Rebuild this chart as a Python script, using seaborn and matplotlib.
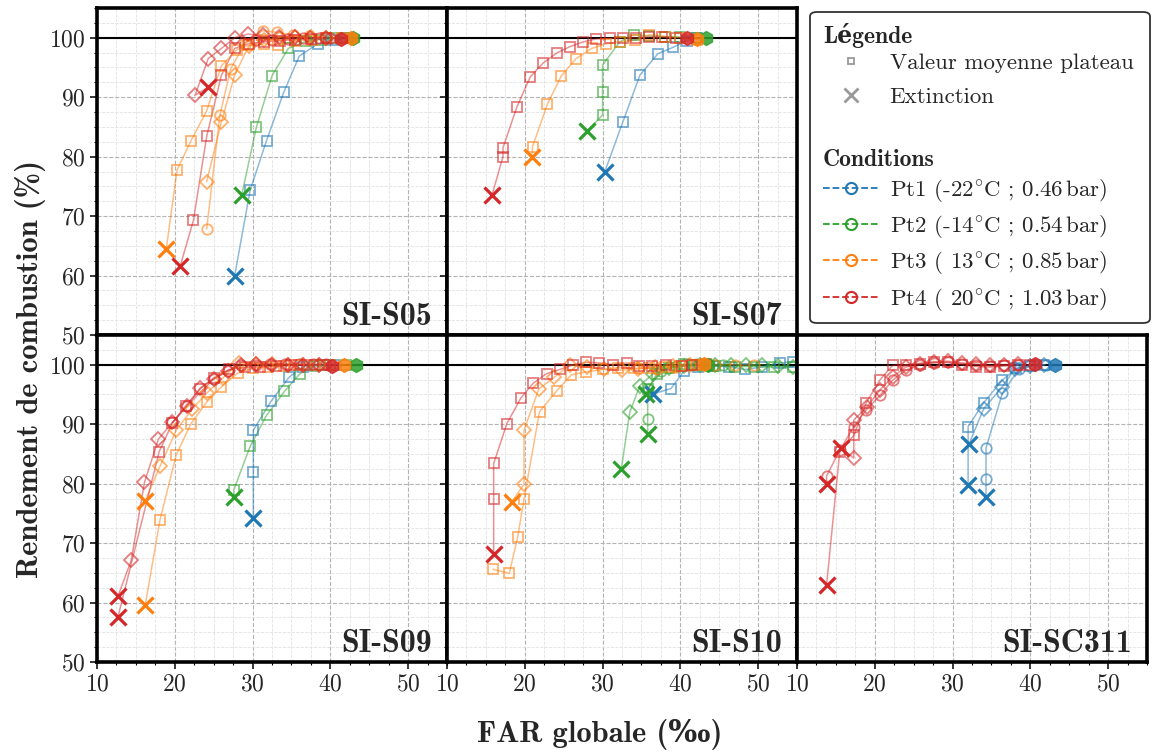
import seaborn as sns
import matplotlib.pyplot as plt
from matplotlib.lines import Line2D
from matplotlib.patches import FancyBboxPatch
from matplotlib.ticker import MultipleLocator

# couleurs des conditions Pt1..Pt4
cond_colors = ['#1f77b4', '#2ca02c', '#ff7f0e', '#d62728']
cond_labels = [r'Pt1 (-22$^{\circ}$C ; 0.46$\,$bar)', r'Pt2 (-14$^{\circ}$C ; 0.54$\,$bar)',
               r'Pt3 ( 13$^{\circ}$C ; 0.85$\,$bar)', r'Pt4 ( 20$^{\circ}$C ; 1.03$\,$bar)']
panels = ['SI-S05', 'SI-S07', 'SI-S09', 'SI-S10', 'SI-SC311']

# ---- SI-S05 ----
s05_pt1_s_x = [29.7, 31.8, 34.0, 36.0, 38.4, 40.3, 41.8]
s05_pt1_s_y = [74.4, 82.7, 90.8, 96.9, 99.0, 99.6, 99.9]
s05_pt1_s_ext = [27.7, 60.0]
s05_pt2_s_x = [30.5, 32.5, 34.6, 36.9, 38.8, 40.6, 42.2]
s05_pt2_s_y = [85.0, 93.6, 98.2, 99.4, 99.7, 99.9, 100.0]
s05_pt2_s_ext = [28.6, 73.5]
s05_pt3_s_x = [20.3, 22.1, 24.1, 26.0, 28.0, 29.4, 31.5, 33.3, 35.5, 37.6, 39.6, 41.5]
s05_pt3_s_y = [77.8, 82.7, 87.7, 95.3, 98.0, 98.7, 99.0, 98.8, 99.4, 99.7, 99.9, 100.0]
s05_pt3_s_ext = [18.9, 64.4]
s05_pt3_d_x = [24.1, 26.0, 27.7, 29.5, 31.5, 33.5, 35.5, 37.5, 39.5]
s05_pt3_d_y = [75.8, 85.9, 93.7, 98.6, 99.6, 100.0, 100.2, 100.1, 100.0]
s05_pt3_o_x = [24.1, 25.8, 27.2, 29.0, 31.3, 33.2, 35.2, 37.3, 39.3, 41.2]
s05_pt3_o_y = [67.8, 87.0, 94.8, 99.0, 101.2, 100.9, 100.5, 100.3, 100.1, 100.0]
s05_pt4_s_x = [22.4, 24.1, 26.0, 27.7, 29.5, 31.5, 33.5, 35.5, 37.5, 39.5]
s05_pt4_s_y = [69.3, 83.4, 93.7, 98.2, 99.0, 99.3, 99.5, 99.7, 99.8, 99.9]
s05_pt4_s_ext = [20.7, 61.6]
s05_pt4_d_x = [22.6, 24.3, 26.0, 27.7, 29.4, 31.4, 33.4, 35.4, 37.4, 39.4]
s05_pt4_d_y = [90.3, 96.5, 98.2, 100.0, 100.6, 100.4, 100.2, 100.1, 100.0, 100.0]
s05_pt4_d_ext = [24.3, 91.7]
s05_pt4_o_x = [30.5, 32.5, 34.6, 36.5, 38.5, 40.0]
s05_pt4_o_y = [99.6, 99.7, 99.8, 99.9, 100.0, 100.0]
s05_end_x = [42.9, 42.6, 41.4]
s05_end_y = [100.0, 100.0, 99.8]
s05_end_c = [1, 2, 3]

# ---- SI-S07 ----
s07_pt1_s_x = [32.6, 34.8, 37.1, 39.1, 40.8, 42.2]
s07_pt1_s_y = [85.8, 93.7, 97.3, 98.4, 99.5, 99.9]
s07_pt1_s_ext = [30.3, 77.5]
s07_pt2_s_x = [30.0, 30.0, 30.0, 32.2, 34.0, 36.0, 38.0, 40.0, 42.0]
s07_pt2_s_y = [87.0, 90.8, 95.4, 99.3, 100.5, 100.3, 100.2, 100.1, 100.0]
s07_pt2_s_ext = [28.0, 84.3]
s07_pt3_s_x = [21.0, 22.9, 24.7, 26.6, 28.6, 30.5, 32.3, 34.2, 36.0, 38.0, 40.0, 42.2]
s07_pt3_s_y = [81.7, 88.8, 93.6, 96.5, 98.2, 99.0, 99.3, 99.6, 100.5, 100.2, 100.0, 99.7]
s07_pt3_s_ext = [20.9, 80.0]
s07_pt4_s_x = [17.2, 17.2, 19.0, 20.7, 22.4, 24.2, 25.8, 27.5, 29.2, 30.9, 32.6, 34.3, 36.0, 37.7, 39.4]
s07_pt4_s_y = [80.0, 81.5, 88.4, 93.4, 95.8, 97.5, 98.5, 99.3, 99.8, 99.9, 100.0, 100.0, 100.1, 100.1, 100.0]
s07_pt4_s_ext = [15.8, 73.6]
s07_end_x = [43.3, 42.2, 40.9]
s07_end_y = [100.0, 99.8, 100.0]
s07_end_c = [1, 2, 3]

# ---- SI-S09 ----
s09_pt1_s_x = [30.1, 30.1, 32.4, 34.7, 36.5, 38.5, 40.5]
s09_pt1_s_y = [81.9, 89.0, 93.9, 97.9, 99.7, 99.9, 100.0]
s09_pt1_s_ext = [30.1, 74.3]
s09_pt2_s_x = [27.6, 29.7, 31.8, 34.1, 36.1, 38.0, 40.0, 42.0]
s09_pt2_s_y = [79.0, 86.3, 91.5, 95.5, 98.5, 99.8, 100.0, 100.0]
s09_pt2_s_ext = [27.6, 77.8]
s09_pt3_s_x = [18.1, 20.2, 22.1, 24.1, 26.0, 28.1, 30.0, 32.0, 34.0, 36.0, 38.0, 40.0]
s09_pt3_s_y = [73.9, 84.9, 90.1, 93.7, 96.3, 98.6, 99.4, 99.7, 99.8, 100.0, 100.0, 100.0]
s09_pt3_s_ext = [16.2, 59.6]
s09_pt3_d_x = [18.1, 20.2, 22.2, 24.1, 26.2, 28.3, 30.5, 32.5, 34.5, 36.5, 38.5]
s09_pt3_d_y = [82.9, 89.0, 92.5, 95.2, 97.8, 100.3, 100.2, 100.1, 100.0, 100.0, 100.0]
s09_pt3_d_ext = [16.2, 77.1]
s09_pt4_d_x = [14.4, 16.1, 17.9, 19.7, 21.6, 23.3, 25.0, 26.8, 28.5, 30.5, 32.5, 34.5, 36.5, 38.5]
s09_pt4_d_y = [67.1, 80.2, 87.5, 90.3, 93.1, 96.1, 97.6, 99.0, 100.0, 100.1, 100.0, 100.0, 100.0, 100.0]
s09_pt4_d_ext = [12.7, 61.1]
s09_pt4_s_x = [18.0, 19.7, 21.4, 23.3, 25.0, 27.0, 29.0, 31.0, 33.0, 35.0, 37.0, 39.0]
s09_pt4_s_y = [85.4, 90.2, 93.1, 96.0, 97.8, 99.2, 99.6, 99.7, 99.8, 99.9, 100.0, 100.0]
s09_pt4_s_ext = [12.7, 57.6]
s09_pt4_o_x = [19.7, 21.6, 25.0, 26.8, 28.5, 30.5, 32.3, 34.2, 36.0, 37.8, 39.5]
s09_pt4_o_y = [90.3, 93.1, 97.6, 98.9, 100.0, 100.0, 100.2, 100.2, 100.2, 100.1, 100.1]
s09_end_x = [43.3, 41.8, 40.2]
s09_end_y = [100.0, 100.0, 99.8]
s09_end_c = [1, 2, 3]

# ---- SI-S10 ----
s10_pt1_s_x = [38.8, 40.5, 42.3, 44.2, 46.3, 48.3, 50.5, 52.8, 54.5]
s10_pt1_s_y = [96.0, 99.0, 99.6, 99.8, 99.7, 99.2, 99.6, 100.3, 100.5]
s10_pt1_s_ext = [36.5, 95.1]
s10_pt2_d_x = [33.5, 34.8, 36.5, 38.5, 40.5, 42.5, 44.5, 46.5, 48.5, 50.5, 52.5, 54.5]
s10_pt2_d_y = [92.0, 96.5, 98.5, 99.5, 99.8, 100.0, 100.0, 100.0, 99.9, 100.0, 99.8, 99.7]
s10_pt2_d_ext = [32.4, 82.4]
s10_pt2_o_x = [35.8, 35.8, 37.5, 39.5, 41.5, 43.5, 45.5]
s10_pt2_o_y = [90.8, 95.9, 99.0, 99.8, 100.0, 100.1, 100.0]
s10_pt2_o_ext = [35.8, 88.3]
s10_pt2_s_x = [35.8, 37.0, 38.5, 40.5, 42.5, 44.5, 47.0, 49.5, 52.0, 54.5]
s10_pt2_s_y = [95.9, 98.5, 99.5, 100.1, 100.0, 99.8, 99.7, 99.7, 99.6, 99.7]
s10_pt2_s_ext = [35.6, 95.1]
s10_pt3_s_x = [15.9, 18.0, 19.1, 19.9, 21.9, 24.1, 26.0, 27.9, 30.0, 32.0, 34.0, 36.0, 38.0, 40.0, 42.0]
s10_pt3_s_y = [65.6, 64.9, 71.1, 77.4, 92.1, 95.6, 98.3, 98.8, 99.2, 99.5, 99.4, 99.5, 99.7, 99.8, 100.0]
s10_pt3_d_x = [19.9, 19.9, 21.8, 23.8, 25.8, 28.0, 30.2, 32.5, 34.6, 36.8, 39.0, 41.2]
s10_pt3_d_y = [79.9, 89.0, 95.9, 97.9, 100.0, 99.6, 99.2, 99.1, 99.3, 99.6, 99.8, 100.0]
s10_pt3_d_ext = [18.3, 76.9]
s10_pt3_o_x = [34.7, 37.0, 39.5, 42.0, 44.5, 47.0, 49.5]
s10_pt3_o_y = [99.5, 99.3, 99.6, 100.1, 100.0, 100.0, 100.0]
s10_pt4_s_x = [16.0, 16.0, 17.7, 19.5, 21.1, 22.8, 24.5, 26.2, 27.9, 29.6, 31.3, 33.1,
               34.7, 36.4, 38.1, 40.2, 41.5, 43.3]
s10_pt4_s_y = [77.4, 83.4, 90.1, 94.4, 96.9, 98.5, 99.2, 100.0, 100.4, 100.3, 100.0, 100.3,
               99.8, 99.8, 100.0, 99.8, 100.0, 100.2]
s10_pt4_s_ext = [16.0, 68.1]
s10_end_x = [43.5, 43.0]
s10_end_y = [100.0, 100.1]
s10_end_c = [1, 2]

# ---- SI-SC311 ----
sc311_pt1_o_x = [34.3, 34.3, 36.4, 38.5, 40.5, 42.0]
sc311_pt1_o_y = [80.8, 86.0, 95.2, 99.2, 99.9, 100.0]
sc311_pt1_o_ext = [34.3, 77.7]
sc311_pt1_s_x = [32.0, 34.0, 36.4, 38.2, 40.0, 41.8]
sc311_pt1_s_y = [89.6, 93.6, 97.4, 99.4, 99.8, 100.0]
sc311_pt1_s_ext = [32.0, 79.7]
sc311_pt1_d_x = [34.0, 36.4, 38.0, 40.0, 41.8]
sc311_pt1_d_y = [92.6, 96.3, 99.3, 99.8, 100.0]
sc311_pt1_d_ext = [32.1, 86.6]
sc311_pt4_o_x = [13.8, 15.5, 17.3, 18.9, 20.7, 22.3, 24.0, 25.8, 27.6, 29.4, 31.2, 33.0, 34.8, 36.6, 38.4]
sc311_pt4_o_y = [81.3, 85.6, 89.6, 92.4, 94.9, 97.4, 99.1, 100.0, 100.3, 100.4, 100.2, 100.0, 99.8, 99.9, 100.0]
sc311_pt4_o_ext = [13.8, 79.9]
sc311_pt4_s_x = [15.5, 17.3, 18.9, 20.7, 22.3, 24.0, 25.8, 27.6, 29.4, 31.2, 33.0, 34.8, 36.6, 38.4, 40.0]
sc311_pt4_s_y = [85.4, 88.1, 93.6, 97.5, 99.9, 100.0, 100.2, 100.4, 100.4, 100.0, 99.7, 99.6, 99.8, 99.9, 100.0]
sc311_pt4_s_ext = [13.8, 62.9]
sc311_pt4_d_x = [17.3, 17.3, 19.0, 20.7, 22.3, 24.0, 25.8, 27.6, 29.4, 31.2, 33.0, 34.8, 36.6, 38.4]
sc311_pt4_d_y = [84.3, 90.7, 92.9, 95.8, 98.0, 99.6, 100.2, 100.5, 100.6, 100.3, 100.1, 99.9, 100.0, 100.1]
sc311_pt4_d_ext = [15.7, 86.0]
sc311_end_x = [43.2, 40.6]
sc311_end_y = [100.0, 100.2]
sc311_end_c = [0, 3]

# (panneau, condition, marqueur, x, y, extinction)
runs = [
    (0, 0, 's', s05_pt1_s_x, s05_pt1_s_y, s05_pt1_s_ext),
    (0, 1, 's', s05_pt2_s_x, s05_pt2_s_y, s05_pt2_s_ext),
    (0, 2, 's', s05_pt3_s_x, s05_pt3_s_y, s05_pt3_s_ext),
    (0, 2, 'D', s05_pt3_d_x, s05_pt3_d_y, None),
    (0, 2, 'o', s05_pt3_o_x, s05_pt3_o_y, None),
    (0, 3, 's', s05_pt4_s_x, s05_pt4_s_y, s05_pt4_s_ext),
    (0, 3, 'D', s05_pt4_d_x, s05_pt4_d_y, s05_pt4_d_ext),
    (0, 3, 'o', s05_pt4_o_x, s05_pt4_o_y, None),
    (1, 0, 's', s07_pt1_s_x, s07_pt1_s_y, s07_pt1_s_ext),
    (1, 1, 's', s07_pt2_s_x, s07_pt2_s_y, s07_pt2_s_ext),
    (1, 2, 's', s07_pt3_s_x, s07_pt3_s_y, s07_pt3_s_ext),
    (1, 3, 's', s07_pt4_s_x, s07_pt4_s_y, s07_pt4_s_ext),
    (2, 0, 's', s09_pt1_s_x, s09_pt1_s_y, s09_pt1_s_ext),
    (2, 1, 's', s09_pt2_s_x, s09_pt2_s_y, s09_pt2_s_ext),
    (2, 2, 's', s09_pt3_s_x, s09_pt3_s_y, s09_pt3_s_ext),
    (2, 2, 'D', s09_pt3_d_x, s09_pt3_d_y, s09_pt3_d_ext),
    (2, 3, 'D', s09_pt4_d_x, s09_pt4_d_y, s09_pt4_d_ext),
    (2, 3, 's', s09_pt4_s_x, s09_pt4_s_y, s09_pt4_s_ext),
    (2, 3, 'o', s09_pt4_o_x, s09_pt4_o_y, None),
    (3, 0, 's', s10_pt1_s_x, s10_pt1_s_y, s10_pt1_s_ext),
    (3, 1, 'D', s10_pt2_d_x, s10_pt2_d_y, s10_pt2_d_ext),
    (3, 1, 'o', s10_pt2_o_x, s10_pt2_o_y, s10_pt2_o_ext),
    (3, 1, 's', s10_pt2_s_x, s10_pt2_s_y, s10_pt2_s_ext),
    (3, 2, 's', s10_pt3_s_x, s10_pt3_s_y, None),
    (3, 2, 'D', s10_pt3_d_x, s10_pt3_d_y, s10_pt3_d_ext),
    (3, 2, 'o', s10_pt3_o_x, s10_pt3_o_y, None),
    (3, 3, 's', s10_pt4_s_x, s10_pt4_s_y, s10_pt4_s_ext),
    (4, 0, 'o', sc311_pt1_o_x, sc311_pt1_o_y, sc311_pt1_o_ext),
    (4, 0, 's', sc311_pt1_s_x, sc311_pt1_s_y, sc311_pt1_s_ext),
    (4, 0, 'D', sc311_pt1_d_x, sc311_pt1_d_y, sc311_pt1_d_ext),
    (4, 3, 'o', sc311_pt4_o_x, sc311_pt4_o_y, sc311_pt4_o_ext),
    (4, 3, 's', sc311_pt4_s_x, sc311_pt4_s_y, sc311_pt4_s_ext),
    (4, 3, 'D', sc311_pt4_d_x, sc311_pt4_d_y, sc311_pt4_d_ext),
]
ends = [(s05_end_x, s05_end_y, s05_end_c), (s07_end_x, s07_end_y, s07_end_c),
        (s09_end_x, s09_end_y, s09_end_c), (s10_end_x, s10_end_y, s10_end_c),
        (sc311_end_x, sc311_end_y, sc311_end_c)]

sns.set_theme(style='ticks')
plt.rcParams['font.family'] = ['cmr10', 'DejaVu Serif']
plt.rcParams['axes.formatter.use_mathtext'] = True
plt.rcParams['mathtext.fontset'] = 'cm'
bold = ['cmb10', 'DejaVu Serif']

fig = plt.figure(figsize=(11.53, 7.53), dpi=100)
W, H = 1153, 753
x0s = [97, 447, 797]
ytops = [8, 335]
aw, ah = 350, 327
slots = [(0, 0), (0, 1), (1, 0), (1, 1), (1, 2)]
axes = []
for (r, c) in slots:
    ax = fig.add_axes([x0s[c] / W, 1 - (ytops[r] + ah) / H, aw / W, ah / H])
    axes.append(ax)

for i, ax in enumerate(axes):
    r, c = slots[i]
    ax.set_xlim(10, 55)
    ax.set_ylim(50, 105)
    ax.set_xticks([10, 20, 30, 40, 50])
    ax.set_yticks([50, 60, 70, 80, 90, 100])
    ax.xaxis.set_minor_locator(MultipleLocator(2.5))
    ax.yaxis.set_minor_locator(MultipleLocator(2.5))
    ax.grid(True, which='major', ls='--', color='#b3b3b3', lw=0.8)
    ax.grid(True, which='minor', ls='--', color='#e2e2e2', lw=0.6)
    ax.set_axisbelow(True)
    ax.tick_params(which='major', length=5, width=1.1, labelsize=17, color='black', pad=3)
    ax.tick_params(which='minor', length=2.5, width=0.8, color='black')
    ax.tick_params(labelbottom=(r == 1), labelleft=(c == 0))
    if r == 0:
        ax.tick_params(axis='x', which='both', length=0)
    for sp in ax.spines.values():
        sp.set_linewidth(2.6)
        sp.set_color('black')
    ax.axhline(100, color='black', lw=1.5, zorder=2)
    ax.text(0.957, 0.012, panels[i], transform=ax.transAxes, ha='right', va='bottom',
            fontsize=23, family=bold, fontweight='bold', zorder=6)

for (p, ci, m, xs, ys, ext) in runs:
    ax = axes[p]
    col = cond_colors[ci]
    lx = ([ext[0]] if ext else []) + xs
    ly = ([ext[1]] if ext else []) + ys
    sns.lineplot(x=lx, y=ly, ax=ax, sort=False, estimator=None, color=col, lw=1.1, alpha=0.5)
    ax.plot(xs, ys, ls='none', marker=m, ms=7.5 if m != 'D' else 7, mfc='none', mec=col,
            mew=1.3, alpha=0.6, zorder=3)
    if ext:
        ax.plot(ext[0], ext[1], ls='none', marker='x', ms=12, mew=2.3, color=col, zorder=5)

for p, (ex, ey, ec) in enumerate(ends):
    for x, y, ci in zip(ex, ey, ec):
        axes[p].plot(x, y, ls='none', marker='h', ms=10, color=cond_colors[ci], alpha=0.85, zorder=4)

fig.text(0.026, 0.51, 'Rendement de combustion (%)', rotation=90, ha='center', va='center',
         fontsize=22, family=bold, fontweight='bold')
fig.text(0.52, 0.024, 'FAR globale (‰)', ha='center', va='center',
         fontsize=22, family=bold, fontweight='bold')

# cadre de légende
frame = FancyBboxPatch((810 / W, 1 - 323 / H), 340 / W, 311 / H, transform=fig.transFigure,
                       boxstyle='round,pad=0,rounding_size=0.006', fc='white', ec='#333333',
                       lw=1.3, zorder=10)
fig.patches.append(frame)

lfs = 16.5
fig.text(823 / W, 1 - 35 / H, 'Légende', ha='left', va='center', fontsize=lfs + 0.5,
         family=bold, fontweight='bold', zorder=12)
fig.text(823 / W, 1 - 160 / H, 'Conditions', ha='left', va='center', fontsize=lfs + 0.5,
         family=bold, fontweight='bold', zorder=12)

h1 = [Line2D([], [], ls='none', marker='s', ms=5, mfc='none', mec='#999999', mew=1.3),
      Line2D([], [], ls='none', marker='x', ms=10, mew=2, color='#999999')]
leg1 = fig.legend(h1, ['Valeur moyenne plateau', 'Extinction'], loc='upper left',
                  bbox_to_anchor=(814 / W, 1 - 44 / H), frameon=False, fontsize=lfs,
                  handlelength=2.4, handletextpad=0.5, labelspacing=0.6, borderaxespad=0)
h2 = [Line2D([], [], ls='--', lw=1.3, color=c, marker='o', ms=8, mfc='none', mew=1.5)
      for c in cond_colors]
leg2 = fig.legend(h2, cond_labels, loc='upper left', bbox_to_anchor=(814 / W, 1 - 168 / H),
                  frameon=False, fontsize=lfs, handlelength=2.4, handletextpad=0.5,
                  labelspacing=0.4, borderaxespad=0)
leg1.set_zorder(11)
leg2.set_zorder(11)

fig.savefig('out.png', dpi=100)
